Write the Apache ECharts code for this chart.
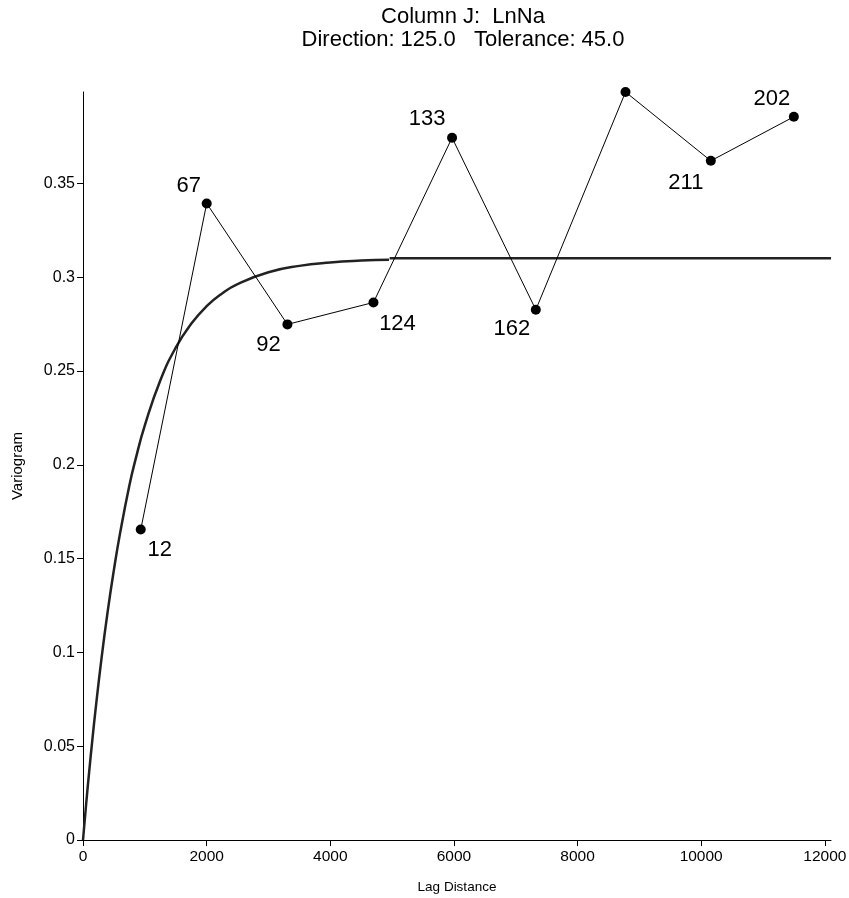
<!DOCTYPE html>
<html>
<head>
<meta charset="utf-8">
<script src="https://cdn.jsdelivr.net/npm/echarts@6/dist/echarts.min.js"></script>
<style>
html,body{margin:0;padding:0;background:#fff;}
#chart{width:849px;height:898px;}
</style>
</head>
<body>
<div id="chart"></div>
<script>
// Experimental variogram points
var lagDistance = [934, 2001, 3307, 4699, 5970, 7325, 8776, 10156, 11499];
var variogramValues = [0.1655, 0.3394, 0.2749, 0.2866, 0.3744, 0.2827, 0.3988, 0.3621, 0.3856];
var pairCounts = ['12', '67', '92', '124', '133', '162', '', '211', '202'];

// Model curve
var modelLag = [0, 50, 100, 150, 200, 300, 400, 500, 600, 750, 850, 1000, 1250, 1500, 1750, 2000, 2250, 2500, 3000, 3500, 4000, 4500, 4950];
var modelValues = [0, 0.0188, 0.0364, 0.053, 0.0686, 0.097, 0.122, 0.144, 0.1636, 0.189, 0.2029, 0.221, 0.245, 0.2625, 0.2752, 0.2846, 0.2914, 0.2964, 0.3027, 0.3061, 0.3079, 0.3089, 0.3094];
var sillLag = [4960, 12100];
var sillValues = [0.3102, 0.3102];

var xTicks = [0, 2000, 4000, 6000, 8000, 10000, 12000];
var yTicks = [0, 0.05, 0.1, 0.15, 0.2, 0.25, 0.3, 0.35];

// label offsets (style only)
var labelOffsets = [[19, 20], [-18, -17], [-19, 21], [24, 21], [-25, -19], [-24, 19], [0, 0], [-25, 22], [-22, -18]];

var font = 'Liberation Sans, Arial, sans-serif';

var pointData = lagDistance.map(function (x, i) {
  return {
    value: [x, variogramValues[i]],
    label: {
      show: pairCounts[i] !== '',
      formatter: pairCounts[i],
      position: 'inside',
      offset: labelOffsets[i]
    }
  };
});

var chart = echarts.init(document.getElementById('chart'), null, {renderer: 'canvas'});
chart.setOption({
  animation: false,
  backgroundColor: '#ffffff',
  title: {
    text: 'Column J:  LnNa\nDirection: 125.0   Tolerance: 45.0',
    left: 458,
    top: 0,
    textAlign: 'center',
    textStyle: {fontFamily: font, fontWeight: 'normal', fontSize: 22, color: '#000', lineHeight: 23}
  },
  grid: {left: 83, right: 18, top: 92, bottom: 58, containLabel: false, outerBoundsMode: 'none'},
  xAxis: {
    type: 'value',
    min: 0,
    max: 12100,
    name: 'Lag Distance',
    nameLocation: 'middle',
    nameGap: 40,
    nameTextStyle: {fontFamily: font, fontSize: 13.5, color: '#000'},
    axisLine: {show: true, onZero: false, lineStyle: {color: '#000', width: 1}},
    axisTick: {show: true, length: 6, inside: false, customValues: xTicks, lineStyle: {color: '#000'}},
    axisLabel: {customValues: xTicks, formatter: function (v) { return String(v); }, fontFamily: font, fontSize: 15.5, color: '#000', margin: 9},
    splitLine: {show: false}
  },
  yAxis: {
    type: 'value',
    min: 0,
    max: 0.3988,
    name: 'Variogram',
    nameLocation: 'middle',
    nameGap: 58,
    nameRotate: 90,
    nameTextStyle: {fontFamily: font, fontSize: 15, color: '#000'},
    axisLine: {show: true, onZero: false, lineStyle: {color: '#000', width: 1}},
    axisTick: {show: true, length: 6, inside: false, customValues: yTicks, lineStyle: {color: '#000'}},
    axisLabel: {customValues: yTicks, formatter: function (v) { return String(v); }, fontFamily: font, fontSize: 16, color: '#000', margin: 8},
    splitLine: {show: false}
  },
  series: [
    {
      type: 'line',
      data: modelLag.map(function (x, i) { return [x, modelValues[i]]; }),
      showSymbol: false,
      smooth: true,
      lineStyle: {color: '#222', width: 2.5},
      z: 2
    },
    {
      type: 'line',
      data: sillLag.map(function (x, i) { return [x, sillValues[i]]; }),
      showSymbol: false,
      lineStyle: {color: '#222', width: 2.5},
      z: 2
    },
    {
      type: 'line',
      data: pointData,
      symbol: 'circle',
      symbolSize: 10,
      showAllSymbol: true,
      itemStyle: {color: '#000'},
      lineStyle: {color: '#000', width: 1},
      label: {fontFamily: font, fontSize: 22, color: '#000', align: 'center', verticalAlign: 'middle'},
      z: 3
    }
  ]
});
</script>
</body>
</html>
